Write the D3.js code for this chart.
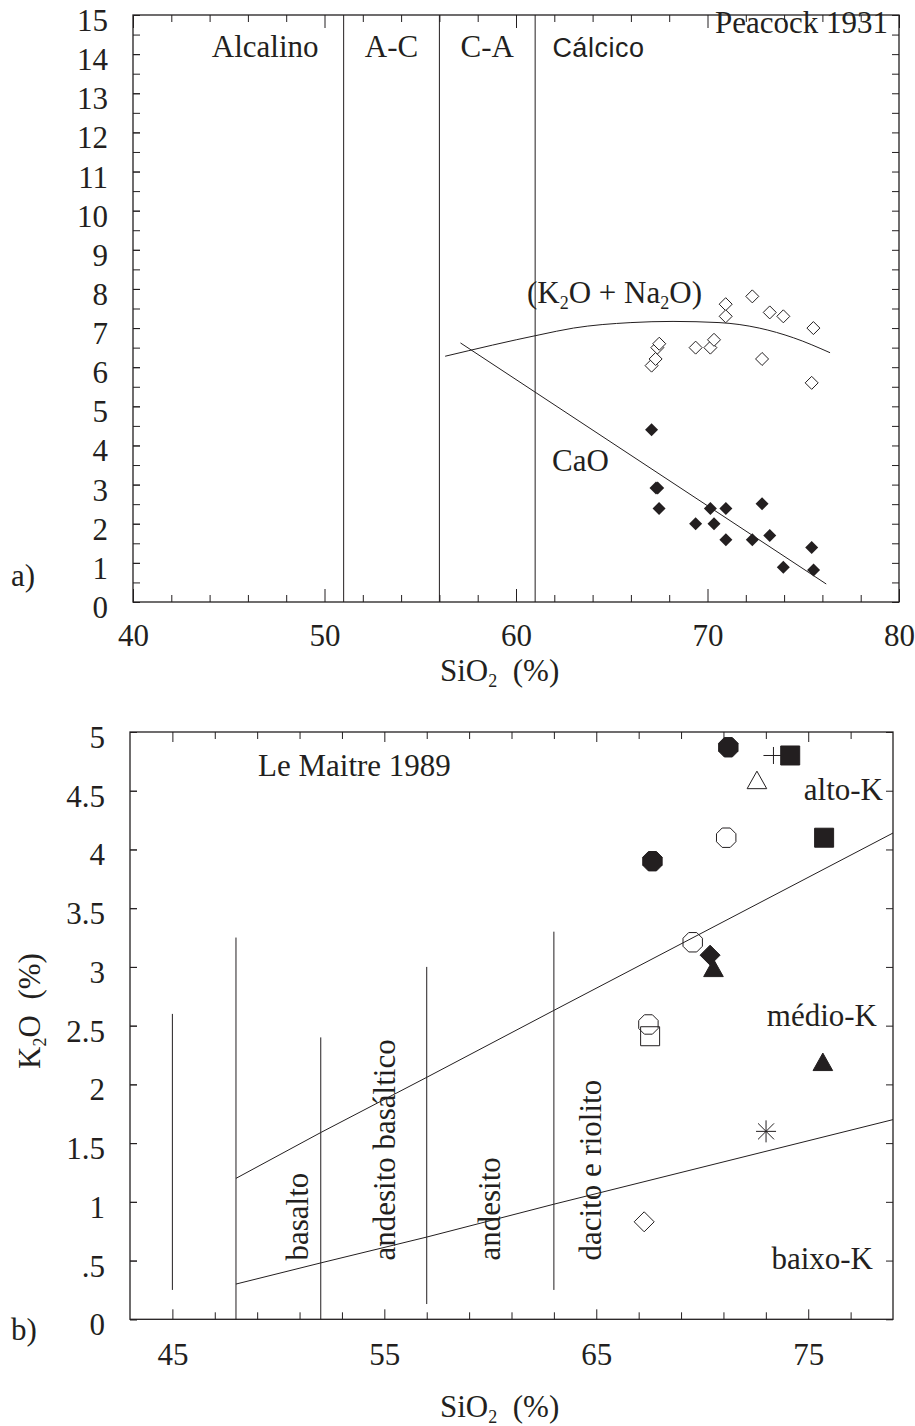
<!DOCTYPE html>
<html>
<head>
<meta charset="utf-8">
<script src="https://cdn.jsdelivr.net/npm/d3@7"></script>
<style>
body { margin: 0; background: #fff; }
text { font-family: "Liberation Serif", "Times New Roman", serif; font-size: 31px; fill: #231f20; white-space: pre; }
</style>
</head>
<body>
<div id="root"></div>
<script>
// a) Peacock 1931 - samples
var alkSio2 = [67.08, 67.29, 67.38, 67.48, 69.38, 70.15, 70.34, 70.95, 70.95, 72.34, 73.25, 73.96, 72.85, 75.53, 75.44];
var alkValue = [6.04, 6.21, 6.50, 6.60, 6.50, 6.50, 6.70, 7.61, 7.30, 7.81, 7.40, 7.30, 6.21, 7.00, 5.60];
var caoSio2 = [67.08, 67.31, 67.40, 67.47, 69.38, 70.15, 70.34, 70.96, 70.96, 72.34, 72.85, 73.25, 73.96, 75.44, 75.54];
var caoValue = [4.40, 2.91, 2.91, 2.39, 2.00, 2.39, 2.00, 2.39, 1.59, 1.59, 2.51, 1.70, 0.89, 1.39, 0.82];

// trend curves
var alkCurveSio2 = [56.3, 61.25, 63, 66, 68.2, 70.6, 72.7, 74.5, 76.4];
var alkCurveValue = [6.28, 6.83, 7.0, 7.14, 7.17, 7.14, 7.0, 6.75, 6.37];
var caoLineSio2 = [57.1, 76.2];
var caoLineValue = [6.62, 0.46];

var peacockBounds = [51, 56, 61];
var peacockFields = ["Alcalino", "A-C", "C-A", "Cálcico"];
var topXTicks = [40, 50, 60, 70, 80];
var topYTicks = d3.range(0, 16, 1);

// b) Le Maitre 1989
var sampleSio2 = [71.23, 67.65, 71.13, 72.58, 73.36, 74.15, 75.75, 69.55, 70.37, 70.53, 67.46, 67.54, 75.69, 73.01, 67.26];
var sampleK2o = [4.87, 3.90, 4.10, 4.59, 4.80, 4.80, 4.10, 3.21, 3.10, 2.99, 2.51, 2.41, 2.19, 1.60, 0.83];
var sampleSymbol = ["octagonFilled", "octagonFilled", "octagonOpen", "triangleOpen", "plus", "squareFilled", "squareFilled",
  "octagonOpen", "diamondFilled", "triangleFilled", "octagonOpen", "squareOpen", "triangleFilled", "asterisk", "diamondOpen"];

var highKSio2 = [48, 52, 57, 63, 79];
var highKValue = [1.20, 1.59, 2.06, 2.63, 4.14];
var lowKSio2 = [48, 52, 57, 63, 79];
var lowKValue = [0.30, 0.48, 0.70, 0.98, 1.70];

var rockBounds = [45, 48, 52, 57, 63];
var rockBoundTop = [2.6, 3.25, 2.4, 3.0, 3.3];
var rockBoundBottom = [0.25, 0, 0, 0.13, 0.25];
var rockNames = ["basalto", "andesito basáltico", "andesito", "dacito e riolito"];
var seriesNames = ["alto-K", "médio-K", "baixo-K"];
var botXTicks = [45, 55, 65, 75];
var botYTicks = d3.range(0, 5.01, 0.5);

var ink = "#231f20";

var svg = d3.select("#root").append("svg")
    .attr("width", 915)
    .attr("height", 1426);

plotPeacock(svg);
plotLeMaitre(svg);

function axes(g, x, y, o) {
  var x0 = x.range()[0], x1 = x.range()[1], y0 = y.range()[0], y1 = y.range()[1];
  var parts = [];
  // bottom, labelled
  parts.push(g.append("g").attr("transform", "translate(0," + y0 + ")")
    .call(d3.axisBottom(x).tickValues(o.xMajor).tickSize(-o.longTick).tickPadding(o.xPad)));
  parts.push(g.append("g").attr("transform", "translate(0," + y0 + ")")
    .call(d3.axisBottom(x).tickValues(o.xMinor).tickSize(-o.shortTick).tickFormat("")));
  // top
  parts.push(g.append("g").attr("transform", "translate(0," + y1 + ")")
    .call(d3.axisTop(x).tickValues(o.xMajor).tickSize(-o.longTick).tickFormat("")));
  parts.push(g.append("g").attr("transform", "translate(0," + y1 + ")")
    .call(d3.axisTop(x).tickValues(o.xMinor).tickSize(-o.shortTick).tickFormat("")));
  // left, labelled
  parts.push(g.append("g").attr("transform", "translate(" + x0 + ",0)")
    .call(d3.axisLeft(y).tickValues(o.yMajor).tickSize(-o.shortTick).tickPadding(25).tickFormat(o.yFormat)));
  parts.push(g.append("g").attr("transform", "translate(" + x0 + ",0)")
    .call(d3.axisLeft(y).tickValues(o.yMinor).tickSize(-o.shortTick).tickFormat("")));
  // right
  parts.push(g.append("g").attr("transform", "translate(" + x1 + ",0)")
    .call(d3.axisRight(y).tickValues(o.yMinor).tickSize(-o.shortTick).tickFormat("")));

  parts.forEach(function(p) {
    p.attr("color", ink);
    p.select(".domain").remove();
    p.selectAll("line").attr("stroke-width", 1);
  });
  parts[4].selectAll("text").attr("dy", "0.5em");

  g.append("rect")
    .attr("x", x0).attr("y", y1)
    .attr("width", x1 - x0).attr("height", y0 - y1)
    .attr("fill", "none").attr("stroke", ink).attr("stroke-width", 1.3);
}

function sioLabel(g, left, y) {
  var t = g.append("text").attr("x", left).attr("y", y);
  t.append("tspan").text("SiO");
  t.append("tspan").attr("font-size", "18px").attr("dy", 6).text("2");
  t.append("tspan").attr("dy", -6).text("  (%)");
}

function plotPeacock(svg) {
  var x = d3.scaleLinear().domain([40, 80]).range([133, 899]);
  var y = d3.scaleLinear().domain([0, 15]).range([602, 15]);
  var g = svg.append("g");

  axes(g, x, y, {
    xMajor: topXTicks,
    xMinor: d3.range(42, 80, 2).filter(function(d) { return d % 10 != 0; }),
    yMajor: topYTicks,
    yMinor: d3.range(0, 15.01, 0.5),
    longTick: 13, shortTick: 7, xPad: 22,
    yFormat: d3.format("d")
  });

  // field boundaries
  g.selectAll(".bound").data(peacockBounds).enter().append("line")
    .attr("x1", function(d) { return x(d); }).attr("x2", function(d) { return x(d); })
    .attr("y1", y(0)).attr("y2", y(15))
    .attr("stroke", ink).attr("stroke-width", 1);

  var fieldX = [46.9, 53.5, 58.5, 61.9];
  g.selectAll(".field").data(peacockFields).enter().append("text")
    .attr("x", function(d, i) { return x(fieldX[i]); })
    .attr("y", 57)
    .attr("text-anchor", function(d, i) { return i == 3 ? "start" : "middle"; })
    .style("font-family", function(d, i) { return i == 3 ? "'Liberation Sans', Arial, sans-serif" : null; })
    .style("font-size", function(d, i) { return i == 3 ? "27px" : null; })
    .style("letter-spacing", function(d, i) { return i == 3 ? "0.5px" : null; })
    .text(function(d) { return d; });

  g.append("text").attr("x", 888).attr("y", 33).attr("text-anchor", "end").text("Peacock 1931");

  // curves
  var alkLine = d3.line().curve(d3.curveMonotoneX)
    .x(function(d) { return x(d[0]); })
    .y(function(d) { return y(d[1]); });
  g.append("path")
    .datum(d3.zip(alkCurveSio2, alkCurveValue))
    .attr("d", alkLine)
    .attr("fill", "none").attr("stroke", ink).attr("stroke-width", 1);
  g.append("path")
    .datum(d3.zip(caoLineSio2, caoLineValue))
    .attr("d", d3.line().x(function(d) { return x(d[0]); }).y(function(d) { return y(d[1]); }))
    .attr("fill", "none").attr("stroke", ink).attr("stroke-width", 1);

  // points
  g.selectAll(".alk").data(d3.zip(alkSio2, alkValue)).enter().append("path")
    .attr("transform", function(d) { return "translate(" + x(d[0]) + "," + y(d[1]) + ")"; })
    .attr("d", "M0,-6.5L6.5,0L0,6.5L-6.5,0Z")
    .attr("fill", "#fff").attr("stroke", ink).attr("stroke-width", 1);
  g.selectAll(".cao").data(d3.zip(caoSio2, caoValue)).enter().append("path")
    .attr("transform", function(d) { return "translate(" + x(d[0]) + "," + y(d[1]) + ")"; })
    .attr("d", "M0,-6.5L6.5,0L0,6.5L-6.5,0Z")
    .attr("fill", ink);

  // labels
  var t = g.append("text").attr("x", 527).attr("y", 303);
  t.append("tspan").text("(K");
  t.append("tspan").attr("font-size", "18px").attr("dy", 6).text("2");
  t.append("tspan").attr("dy", -6).text("O + Na");
  t.append("tspan").attr("font-size", "18px").attr("dy", 6).text("2");
  t.append("tspan").attr("dy", -6).text("O)");
  g.append("text").attr("x", 552).attr("y", 471).text("CaO");

  g.append("text").attr("x", 11).attr("y", 586).text("a)");
  sioLabel(g, 440, 681);
}

function octagon(r) {
  var pts = d3.range(8).map(function(i) {
    var a = Math.PI / 8 + i * Math.PI / 4;
    return [r * Math.cos(a), r * Math.sin(a)];
  });
  return "M" + pts.join("L") + "Z";
}

function marker(kind) {
  if (kind.indexOf("octagon") == 0) return octagon(10.5);
  if (kind.indexOf("square") == 0) return "M-9.5,-9.5H9.5V9.5H-9.5Z";
  if (kind.indexOf("triangle") == 0) return "M0,-9L9.8,8.5H-9.8Z";
  if (kind.indexOf("diamond") == 0) return "M0,-10L10,0L0,10L-10,0Z";
  if (kind == "plus") return "M-10,0H10M0,-8.5V8.5";
  if (kind == "asterisk") return "M-10,0H10M0,-11V11M-8,-8L8,8M-8,8L8,-8";
  return "";
}

function plotLeMaitre(svg) {
  var x = d3.scaleLinear().domain([43, 79]).range([130, 893]);
  var y = d3.scaleLinear().domain([0, 5]).range([1319.3, 732]);
  var g = svg.append("g");

  axes(g, x, y, {
    xMajor: botXTicks,
    xMinor: d3.range(47, 79, 2).filter(function(d) { return d % 10 != 5; }),
    yMajor: botYTicks,
    yMinor: botYTicks,
    longTick: 10, shortTick: 7, xPad: 24,
    yFormat: function(d) { return d == 0.5 ? ".5" : String(d); }
  });

  // rock-type boundaries
  g.selectAll(".rock").data(rockBounds).enter().append("line")
    .attr("x1", function(d) { return x(d); }).attr("x2", function(d) { return x(d); })
    .attr("y1", function(d, i) { return y(rockBoundBottom[i]); })
    .attr("y2", function(d, i) { return y(rockBoundTop[i]); })
    .attr("stroke", ink).attr("stroke-width", 1);

  var line = d3.line().x(function(d) { return x(d[0]); }).y(function(d) { return y(d[1]); });
  g.append("path").datum(d3.zip(highKSio2, highKValue)).attr("d", line)
    .attr("fill", "none").attr("stroke", ink).attr("stroke-width", 1);
  g.append("path").datum(d3.zip(lowKSio2, lowKValue)).attr("d", line)
    .attr("fill", "none").attr("stroke", ink).attr("stroke-width", 1);

  // vertical rock names
  var nameX = [51.4, 55.5, 60.45, 65.2];
  g.selectAll(".rockname").data(rockNames).enter().append("text")
    .attr("transform", function(d, i) { return "translate(" + x(nameX[i]) + "," + y(0.5) + ") rotate(-90)"; })
    .text(function(d) { return d; });

  // series names
  var seriesPos = [[883, 800], [877, 1026], [873, 1269]];
  g.selectAll(".series").data(seriesNames).enter().append("text")
    .attr("x", function(d, i) { return seriesPos[i][0]; })
    .attr("y", function(d, i) { return seriesPos[i][1]; })
    .attr("text-anchor", "end")
    .text(function(d) { return d; });

  g.append("text").attr("x", 258).attr("y", 776).text("Le Maitre 1989");

  // samples
  g.selectAll(".sample").data(d3.range(sampleSio2.length)).enter().append("path")
    .attr("transform", function(i) { return "translate(" + x(sampleSio2[i]) + "," + y(sampleK2o[i]) + ")"; })
    .attr("d", function(i) { return marker(sampleSymbol[i]); })
    .attr("fill", function(i) {
      return sampleSymbol[i].indexOf("Filled") > 0 ? ink : "none";
    })
    .attr("stroke", ink)
    .attr("stroke-width", 1);

  // axis titles
  var t = g.append("text").attr("transform", "translate(40,1011) rotate(-90)").attr("text-anchor", "middle");
  t.append("tspan").text("K");
  t.append("tspan").attr("font-size", "18px").attr("dy", 6).text("2");
  t.append("tspan").attr("dy", -6).text("O  (%)");

  g.append("text").attr("x", 11).attr("y", 1340).text("b)");
  sioLabel(g, 440, 1417);
}
</script>
</body>
</html>
